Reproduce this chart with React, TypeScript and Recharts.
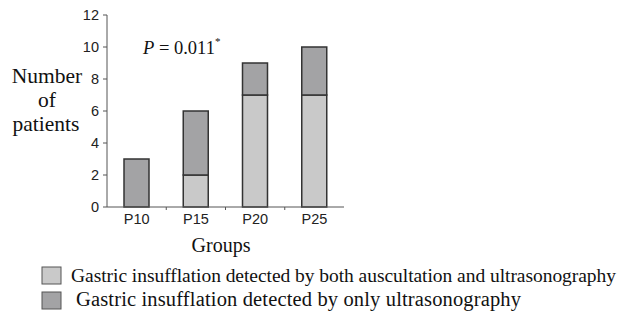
import React from "react";
import { BarChart, Bar, XAxis, YAxis } from "recharts";

const groups = ["P10", "P15", "P20", "P25"];
const bothMethods = [0, 2, 7, 7];
const onlyUltrasound = [3, 4, 2, 3];
const yTicks = [0, 2, 4, 6, 8, 10, 12];

const legendBoth = "Gastric insufflation detected by both auscultation and ultrasonography";
const legendOnly = "Gastric insufflation detected by only ultrasonography";

const data = groups.map((g, i) => ({ group: g, both: bothMethods[i], only: onlyUltrasound[i] }));

const LIGHT = "#c9c9c9";
const DARK = "#a3a3a5";
const EDGE = "#333";
const SERIF = "'Liberation Serif', 'Times New Roman', serif";
const SANS = "'Liberation Sans', Arial, sans-serif";

const PLOT_LEFT = 107;
const PLOT_RIGHT = 344;
const PLOT_BOTTOM = 207;
const HALF_BAND = (PLOT_RIGHT - PLOT_LEFT) / groups.length / 2;

function GroupTick(props: any) {
  const { x, payload, index } = props;
  return (
    <g>
      <text x={x} y={224} textAnchor="middle" fontFamily={SANS} fontSize={14.5} fill="#222">
        {payload.value}
      </text>
      {index < groups.length - 1 && (
        <line x1={x + HALF_BAND} x2={x + HALF_BAND} y1={PLOT_BOTTOM} y2={PLOT_BOTTOM + 3} stroke="#555" />
      )}
    </g>
  );
}

export default function App() {
  return (
    <div style={{ position: "absolute", left: 0, top: 0, width: 630, height: 317, background: "#fff" }}>
      <BarChart
        width={630}
        height={317}
        data={data}
        margin={{ top: 15, right: 630 - PLOT_RIGHT, left: PLOT_LEFT - 40, bottom: 80 }}
        barSize={25}
      >
        <XAxis
          dataKey="group"
          height={30}
          tickLine={false}
          axisLine={{ stroke: "#555" }}
          tick={<GroupTick />}
          interval={0}
        />
        <YAxis
          width={40}
          domain={[0, 12]}
          ticks={yTicks}
          interval={0}
          tickSize={4}
          tickMargin={4}
          axisLine={{ stroke: "#555" }}
          tickLine={{ stroke: "#555" }}
          tick={{ fontFamily: SANS, fontSize: 14.5, fill: "#222" }}
        />
        <Bar dataKey="both" stackId="s" fill={LIGHT} stroke={EDGE} strokeWidth={1.5} isAnimationActive={false} />
        <Bar dataKey="only" stackId="s" fill={DARK} stroke={EDGE} strokeWidth={1.5} isAnimationActive={false} />
      </BarChart>
      <svg width={630} height={317} style={{ position: "absolute", left: 0, top: 0, pointerEvents: "none" }}>
        <g fontFamily={SERIF} fontSize={21.5} fill="#111" textAnchor="middle">
          <text x={47} y={83}>Number</text>
          <text x={47} y={107}>of</text>
          <text x={46} y={131}>patients</text>
        </g>
        <text x={221} y={252} fontFamily={SERIF} fontSize={20} fill="#111" textAnchor="middle">
          Groups
        </text>
        <text x={143} y={54} fontFamily={SERIF} fontSize={18.5} fill="#111">
          <tspan fontStyle="italic">P</tspan>
          <tspan> = 0.011</tspan>
          <tspan dy={-9} fontSize={11}>*</tspan>
        </text>
        <rect x={42} y={267} width={19} height={17} fill={LIGHT} stroke="#555" />
        <rect x={42} y={292} width={19} height={17} fill={DARK} stroke="#555" />
        <text x={71} y={282} fontFamily={SERIF} fontSize={19.5} fill="#111" textLength={545} lengthAdjust="spacing">
          {legendBoth}
        </text>
        <text x={76} y={306} fontFamily={SERIF} fontSize={20.5} fill="#111" textLength={445} lengthAdjust="spacing">
          {legendOnly}
        </text>
      </svg>
    </div>
  );
}
